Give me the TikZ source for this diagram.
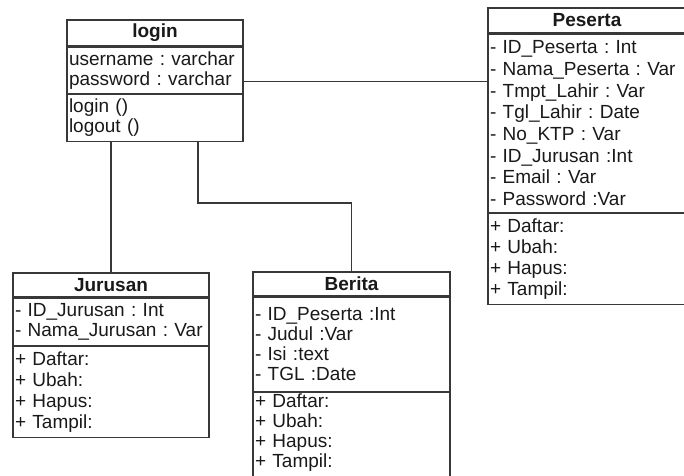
\documentclass[tikz,border=0pt]{standalone}
\usepackage{fontspec}
\setmainfont{Liberation Sans}
\usetikzlibrary{positioning}
\frenchspacing

\begin{document}
\begin{tikzpicture}[
  x=1pt, y=-1pt,
  every node/.style={draw=black!78, line width=1.2pt, inner xsep=2pt, inner ysep=0pt, text=black!90},
  classname/.style={font=\fontsize{19}{20}\selectfont\bfseries, align=center},
  members/.style={font=\fontsize{19}{20}\selectfont, align=left, below=0pt of #1},
  link/.style={draw=black!78, line width=1.1pt}
]
  \useasboundingbox (0,0) rectangle (684,475);
  \clip (0,0) rectangle (684,475);

  % login
  \node[classname, text width=172pt, minimum height=26pt] (login) at (155,33) {login};
  \node[members=login, text width=172pt, minimum height=46pt] (login-attr)
    {username : varchar\\password : varchar};
  \node[members=login-attr, text width=172pt, minimum height=47pt] (login-ops)
    {login ()\\logout ()};

  % Peserta
  \node[classname, text width=194pt, minimum height=25pt] (peserta) at (587,20.5) {Peserta};
  \node[members=peserta, text width=194pt, minimum height=178pt, font=\fontsize{19}{21.7}\selectfont] (peserta-attr)
    {- ID\_Peserta : Int\\- Nama\_Peserta : Var\\- Tmpt\_Lahir : Var\\- Tgl\_Lahir : Date\\
     - No\_KTP : Var\\- ID\_Jurusan :Int\\- Email : Var\\- Password :Var};
  \node[members=peserta-attr, text width=194pt, minimum height=91pt, font=\fontsize{19}{21}\selectfont] (peserta-ops)
    {+ Daftar:\\+ Ubah:\\+ Hapus:\\+ Tampil:};

  % Jurusan
  \node[classname, text width=192pt, minimum height=24pt] (jurusan) at (111,285) {Jurusan};
  \node[members=jurusan, text width=192pt, minimum height=47pt] (jurusan-attr)
    {- ID\_Jurusan : Int\\- Nama\_Jurusan : Var};
  \node[members=jurusan-attr, text width=192pt, minimum height=91pt, font=\fontsize{19}{21}\selectfont] (jurusan-ops)
    {+ Daftar:\\+ Ubah:\\+ Hapus:\\+ Tampil:};

  % Berita (runs off the bottom)
  \node[classname, text width=193pt, minimum height=24pt] (berita) at (351.5,284) {Berita};
  \node[members=berita, text width=193pt, minimum height=94pt] (berita-attr)
    {- ID\_Peserta :Int\\- Judul :Var\\- Isi :text\\- TGL :Date};
  \node[members=berita-attr, text width=193pt, text height=15pt, text depth=76pt] (berita-ops)
    {+ Daftar:\\+ Ubah:\\+ Hapus:\\+ Tampil:};

  % relations
  \draw[link] (login-attr.east) ++(0,11) coordinate (l1) -- (l1 -| peserta-attr.west);
  \draw[link] (jurusan.north) -- (jurusan.north |- login-ops.south);
  \draw[link] (login-ops.south) ++(43,0) -- ++(0,61) -| (berita.north);
\end{tikzpicture}
\end{document}
